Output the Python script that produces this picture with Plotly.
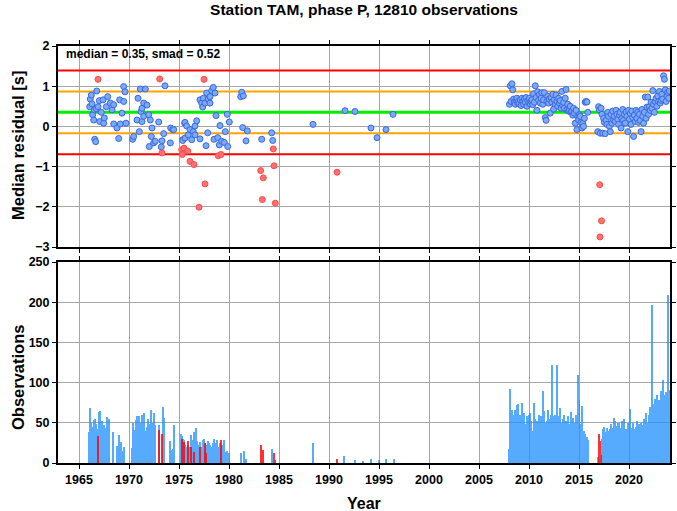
import plotly.graph_objects as go

TITLE = "Station TAM, phase P, 12810 observations"
MEDIAN = 0.35
SMAD = 0.52
X_RANGE = [1962.9, 2024.1]
YEAR_TICKS = [1965, 1970, 1975, 1980, 1985, 1990, 1995, 2000, 2005, 2010, 2015, 2020]
RES_TICKS = [-3, -2, -1, 0, 1, 2]
OBS_TICKS = [0, 50, 100, 150, 200, 250]

# ---- residuals: early period (decimal year, median residual) ----
early_year = [1966.07, 1966.13, 1966.23, 1966.30, 1966.37, 1966.47, 1966.53, 1966.57, 1966.67, 1966.73,
              1966.77, 1966.90, 1967.03, 1967.07, 1967.23, 1967.40, 1967.47, 1967.53, 1967.73, 1967.87,
              1968.13, 1968.30, 1968.47, 1968.47, 1968.80, 1968.97, 1969.07, 1969.13, 1969.30, 1969.47,
              1969.47, 1969.60, 1969.70,
              1970.37, 1970.47, 1970.80, 1970.90, 1971.03, 1971.13, 1971.20, 1971.30, 1971.30, 1971.47,
              1971.47, 1971.63, 1971.80, 1971.97, 1972.03, 1972.13, 1972.23, 1972.30, 1972.47, 1972.63,
              1972.97, 1973.23, 1973.30, 1973.47, 1973.60, 1974.13, 1974.17, 1974.37, 1974.47,
              1975.37, 1975.37, 1975.57, 1975.60, 1975.60, 1975.77, 1975.93, 1976.10, 1976.27, 1976.43,
              1976.60, 1976.60, 1976.77, 1977.10, 1977.10, 1977.27, 1977.37, 1977.43, 1977.60, 1977.70,
              1977.77, 1977.87, 1977.93, 1978.10, 1978.10, 1978.27, 1978.43, 1978.50, 1978.60, 1978.70,
              1978.87, 1979.03, 1979.10, 1979.27, 1979.53, 1979.63, 1979.83, 1979.87, 1980.03,
              1981.17, 1981.27, 1981.37, 1981.43, 1981.70, 1981.83, 1983.27, 1984.27, 1984.37,
              1988.40, 1991.60, 1992.60, 1994.20, 1994.80, 1995.70, 1996.40]
early_res = [0.49, 0.68, 0.78, 0.56, 0.29, 0.16, 0.41, -0.32, -0.38, 0.44,
             0.88, 0.49, 0.64, 0.12, 0.35, 0.66, 0.08, 0.21, 0.49, 0.74,
             0.58, 0.41, 0.54, 0.06, -0.04, -0.30, 0.66, 0.06, 0.33, 0.62,
             0.99, 0.86, 0.08,
             -0.32, -0.25, 0.16, 0.70, -0.13, 0.93, 0.37, 0.45, 0.12, 0.58,
             0.25, 0.93, 0.53, 0.29, -0.50, 0.16, -0.25, -0.04, -0.41, -0.37,
             0.11, -0.51, -0.36, -0.18, 1.01, -0.41, -0.04, -0.08, -0.08,
             -0.33, -0.35, 0.08, 0.10, -0.29, 0.01, -0.21, -0.08, -0.33, -0.13,
             0.01, -0.21, 0.14, -0.31, 0.66, 0.58, 0.48, 0.70, 0.58, -0.48,
             0.83, -0.16, 0.68, 0.74, 0.58, 0.89, 0.97, -0.32, 0.83, 0.27,
             -0.28, -0.46, 0.02, -0.37, -0.40, -0.13, 0.30, -0.50, 0.11,
             0.74, 0.85, -0.03, 0.76, -0.36, -0.11, -0.32, -0.16, -0.35,
             0.05, 0.39, 0.37, -0.04, -0.28, -0.08, 0.30]

# ---- residuals: monthly, Jan 2008 - Nov 2015 ----
res_2008_start = (2008, 1)
res_2008 = [0.55, 1.01, 0.62, 1.06, 0.91, 0.68, 0.60, 0.55, 0.66, 0.70, 0.58, 0.63,
            0.57, 0.66, 0.52, 0.70, 0.62, 0.55, 0.68, 0.60, 0.72, 0.50, 0.64, 0.58,
            0.70, 0.56, 0.62, 0.66, 0.54, 0.81, 0.60, 1.01, 0.72, 0.40, 0.86, 0.65,
            0.79, 0.58, 0.70, 0.84, 0.55, 0.66, 0.84, 0.22, 0.15, 0.62, 0.75, 0.58,
            0.68, 0.33, 0.72, 0.60, 0.80, 0.43, 0.66, 0.55, 0.78, 0.62, 0.50, 0.70,
            0.58, 0.64, 0.45, 0.87, 0.52, 0.60, 0.45, 0.70, 0.92, 0.41, 0.55, 0.38,
            0.41, 0.50, 0.35, 0.37, 0.28, 0.45, 0.33, 0.08, 0.40, -0.08, 0.25, 0.16,
            0.29, 0.25, 0.10, -0.04, 0.08, 0.00, 0.20, 0.60, 0.62, 0.61, 0.35]

# ---- residuals: monthly, Nov 2016 - Jan 2024 ----
res_2016_start = (2016, 11)
res_2016 = [-0.13, 0.49,
            0.41, -0.17, 0.45, 0.30, -0.17, 0.20, 0.10, -0.18, 0.15, 0.05, 0.35, 0.25,
            0.00, -0.13, 0.30, 0.08, 0.38, 0.16, 0.25, 0.12, 0.40, 0.30, 0.18, 0.05,
            0.28, 0.35, -0.04, 0.20, 0.42, 0.15, 0.30, 0.08, 0.36, 0.25, -0.13, 0.40,
            0.18, 0.32, 0.05, 0.38, 0.22, -0.25, 0.28, 0.12, 0.40, 0.20, 0.35, 0.10,
            0.30, 0.15, -0.13, 0.42, 0.25, 0.08, 0.35, 0.73, 0.20, 0.48, 0.73, 0.30,
            0.49, 0.40, 0.60, 0.45, 0.89, 0.55, 0.35, 0.62, 0.70, 0.50, 0.76, 0.62,
            0.87, 0.58, 0.65, 0.80, 0.68, 1.26, 1.17, 0.91, 0.62, 0.75, 0.85, 0.70,
            0.88]

# ---- flagged (red) residuals ----
flag_year = [1966.90, 1973.07, 1973.30, 1975.27, 1975.33, 1975.50, 1975.87, 1976.10, 1976.50, 1977.00,
             1977.50, 1977.60, 1978.93, 1979.20, 1983.17, 1983.33, 1983.43, 1984.43, 1984.50, 1984.63,
             1990.80, 2017.07, 2017.25, 2017.10]
flag_res = [1.17, 1.18, -0.66, -0.58, -0.70, -0.54, -0.61, -0.87, -0.95, -2.01,
            1.17, -1.43, -0.73, -0.70, -1.10, -1.82, -1.28, -0.56, -0.98, -1.91,
            -1.14, -1.45, -2.35, -2.75]

# ---- observation counts per month (blue), contiguous runs ----
obs_1966_start = (1966, 1)
obs_1966 = [39, 68, 50, 37, 45, 40, 53, 55, 48, 42, 30, 50,
            63, 65, 45, 52, 47, 40, 47, 44, 38, 57, 50, 55, 48]
obs_1968_start = (1968, 2)
obs_1968 = [0, 0, 0, 39, 0, 0, 0, 0, 21, 0, 35, 19, 0, 26, 15, 0, 20]
obs_1970_start = (1970, 4)
obs_1970 = [19, 50, 33, 41, 25, 53, 58, 35, 40,
            58, 45, 50, 60, 35, 49, 62, 40, 30, 45, 55, 48,
            49, 35, 66, 40, 50, 62, 30, 47]
obs_1973_start = (1973, 1)
obs_1973 = [47, 0, 0, 0, 70, 56]
obs_1974_start = (1974, 2)
obs_1974 = [27, 16, 0, 18, 0, 47]
obs_1975_start = (1975, 3)
obs_1975 = [36, 34, 30, 29, 25, 22, 20, 18, 22, 13,
            20, 18, 35, 28, 25, 38, 14, 30, 44, 27, 22, 20,
            18, 26, 16, 20, 28, 30, 27, 25, 22, 16, 27, 20,
            25, 22, 20, 18, 25, 29, 30, 25, 22, 28, 18, 16,
            20, 25, 18, 22, 16, 28, 20, 12, 14, 15, 10, 12,
            10]
obs_2008_start = (2008, 1)
obs_2008 = [17, 92, 35, 66, 44, 60, 35, 66, 40, 72, 74, 45,
            50, 60, 44, 75, 40, 55, 62, 48, 35, 58, 45, 60,
            47, 62, 52, 40, 38, 64, 75, 55, 48, 52, 40, 60,
            44, 36, 58, 55, 90, 40, 65, 50, 48, 52, 66, 40,
            42, 55, 60, 122, 48, 58, 45, 60, 55, 122, 50, 58,
            44, 68, 50, 40, 55, 60, 48, 36, 52, 44, 58, 40,
            48, 42, 64, 38, 56, 40, 50, 45, 60, 55, 110, 55,
            78, 48, 40, 71, 32, 40, 38, 36, 30, 32, 28]
obs_2016_start = (2016, 11)
obs_2016 = [8, 0,
            0, 0, 0, 30, 42, 38, 45, 30, 38, 44, 40, 36,
            30, 42, 48, 38, 44, 56, 40, 52, 35, 46, 50, 38,
            50, 44, 36, 52, 40, 55, 48, 30, 42, 35, 50, 46,
            38, 67, 30, 44, 50, 35, 42, 40, 45, 52, 30, 48,
            42, 36, 50, 47, 40, 55, 45, 38, 62, 50, 44, 30,
            60, 70, 58, 197, 73, 66, 60, 80, 55, 85, 70, 60,
            78, 64, 90, 70, 103, 85, 75, 66, 88, 72, 209, 80,
            91]
# isolated months (blue)
sparse_months = ["1981-03", "1981-06", "1981-09", "1984-04", "1988-05", "1991-07",
                 "1992-08", "1993-05", "1994-03", "1995-01", "1995-09", "1996-06"]
sparse_counts = [12, 15, 5, 17, 25, 9, 4, 3, 5, 4, 5, 5]

# flagged months (red)
flag_months = ["1966-11", "1973-01", "1973-04", "1975-04", "1975-07", "1975-11", "1976-03",
               "1976-07", "1977-02", "1977-08", "1977-09", "1979-03", "1983-03", "1983-05",
               "1984-06", "1984-08", "1990-10", "2017-01", "2017-02", "2017-03"]
flag_counts = [33, 41, 36, 30, 26, 27, 20, 14, 20, 25, 12, 29, 22, 16, 12, 4, 5, 36, 27, 10]


def month_pos(year, month):
    return year + (month - 0.5) / 12.0


def run_positions(start, n):
    y, m = start
    out = []
    for _ in range(n):
        out.append(month_pos(y, m))
        m += 1
        if m > 12:
            m, y = 1, y + 1
    return out


def str_pos(s):
    y, m = s.split("-")
    return month_pos(int(y), int(m))


blue_x, blue_n = [], []
for st, vals in [(obs_1966_start, obs_1966), (obs_1968_start, obs_1968), (obs_1970_start, obs_1970),
                 (obs_1973_start, obs_1973), (obs_1974_start, obs_1974), (obs_1975_start, obs_1975),
                 (obs_2008_start, obs_2008), (obs_2016_start, obs_2016)]:
    blue_x += run_positions(st, len(vals))
    blue_n += vals
blue_x += [str_pos(s) for s in sparse_months]
blue_n += sparse_counts
red_x = [str_pos(s) for s in flag_months]

res_x = early_year + run_positions(res_2008_start, len(res_2008)) + run_positions(res_2016_start, len(res_2016))
res_y = early_res + res_2008 + res_2016

FONT = "Liberation Sans, Arial, Helvetica, sans-serif"
W, H = 677, 511
ML, MR, MT, MB = 58, 7, 46, 48
PLOT_W = W - ML - MR
PLOT_H = H - MT - MB

fig = go.Figure()

fig.add_trace(go.Bar(x=blue_x, y=blue_n, width=0.09, marker=dict(color="#1E90FF", line=dict(width=0)),
                     opacity=0.75, xaxis="x2", yaxis="y2", showlegend=False, hoverinfo="skip"))
fig.add_trace(go.Bar(x=red_x, y=flag_counts, width=0.09, marker=dict(color="#FF0000", line=dict(width=0)),
                     opacity=0.8, xaxis="x2", yaxis="y2", showlegend=False, hoverinfo="skip"))

# reference levels: median, +-1 smad, +-2 smad (drawn as line traces under the markers)
levels = [(MEDIAN + 2 * SMAD, "#FF0000", 2), (MEDIAN - 2 * SMAD, "#FF0000", 2),
          (MEDIAN + SMAD, "#FFA500", 2), (MEDIAN - SMAD, "#FFA500", 2),
          (MEDIAN, "#00EE00", 3)]
for yv, col, w in levels:
    fig.add_trace(go.Scatter(x=X_RANGE, y=[yv, yv], mode="lines", xaxis="x", yaxis="y",
                             line=dict(color=col, width=w), showlegend=False, hoverinfo="skip"))

fig.add_trace(go.Scatter(x=res_x, y=res_y, mode="markers", xaxis="x", yaxis="y", showlegend=False,
                         marker=dict(size=6, color="#79AAF2", line=dict(color="#3A66E8", width=1))))
fig.add_trace(go.Scatter(x=flag_year, y=flag_res, mode="markers", xaxis="x", yaxis="y", showlegend=False,
                         marker=dict(size=6, color="#FF7070", line=dict(color="#FF4A4A", width=1))))

axis_common = dict(showline=True, linecolor="black", linewidth=2, mirror="allticks",
                   ticks="outside", ticklen=4, tickcolor="black", showgrid=True,
                   gridcolor="#a6a6a6", gridwidth=1, zeroline=False, automargin=False,
                   tickfont=dict(family=FONT, size=12.5, color="black", weight="bold"))

TOP_DOM = [(PLOT_H - 201) / PLOT_H, 1]
BOT_DOM = [0, 201 / PLOT_H]

fig.update_layout(
    width=W, height=H,
    margin=dict(l=ML, r=MR, t=MT, b=MB, autoexpand=False),
    paper_bgcolor="white", plot_bgcolor="white",
    barmode="overlay", bargap=0,
    font=dict(family=FONT, color="black"),
    title=dict(text="<b>" + TITLE + "</b>", x=0.5, xanchor="center", xref="paper",
               y=1 - 10 / H, yanchor="middle", yref="container",
               font=dict(family=FONT, size=15.5, color="black")),
    xaxis=dict(domain=[0, 1], range=X_RANGE, anchor="y", tickvals=YEAR_TICKS,
               showticklabels=False, **axis_common),
    yaxis=dict(domain=TOP_DOM, range=[-3, 2], anchor="x", tickvals=RES_TICKS, **axis_common),
    xaxis2=dict(domain=[0, 1], range=X_RANGE, anchor="y2", tickvals=YEAR_TICKS, **axis_common),
    yaxis2=dict(domain=BOT_DOM, range=[0, 250], anchor="x2", tickvals=OBS_TICKS, **axis_common),
)

fig.add_annotation(text="<b>median = %.2f, smad = %.2f</b>" % (MEDIAN, SMAD),
                   xref="paper", yref="paper", x=(64 - ML) / PLOT_W, y=(H - MB - 54) / PLOT_H,
                   xanchor="left", yanchor="middle",
                   showarrow=False, font=dict(family=FONT, size=12, color="black"))
fig.add_annotation(text="<b>Median residual [s]</b>", xref="paper", yref="paper",
                   x=-(ML - 18) / PLOT_W, y=(H - MB - 146) / PLOT_H, textangle=-90, showarrow=False,
                   xanchor="center", yanchor="middle", font=dict(family=FONT, size=16.5, color="black"))
fig.add_annotation(text="<b>Observations</b>", xref="paper", yref="paper",
                   x=-(ML - 18) / PLOT_W, y=(H - MB - 378) / PLOT_H, textangle=-90, showarrow=False,
                   xanchor="center", yanchor="middle", font=dict(family=FONT, size=16.5, color="black"))
fig.add_annotation(text="<b>Year</b>", xref="paper", yref="paper",
                   x=0.5, y=-(503 - (H - MB)) / PLOT_H, showarrow=False,
                   xanchor="center", yanchor="middle", font=dict(family=FONT, size=16, color="black"))

fig.write_html("out.html", config={"displayModeBar": False},
               post_script="document.body.style.margin='0px';document.body.style.padding='0px';")
